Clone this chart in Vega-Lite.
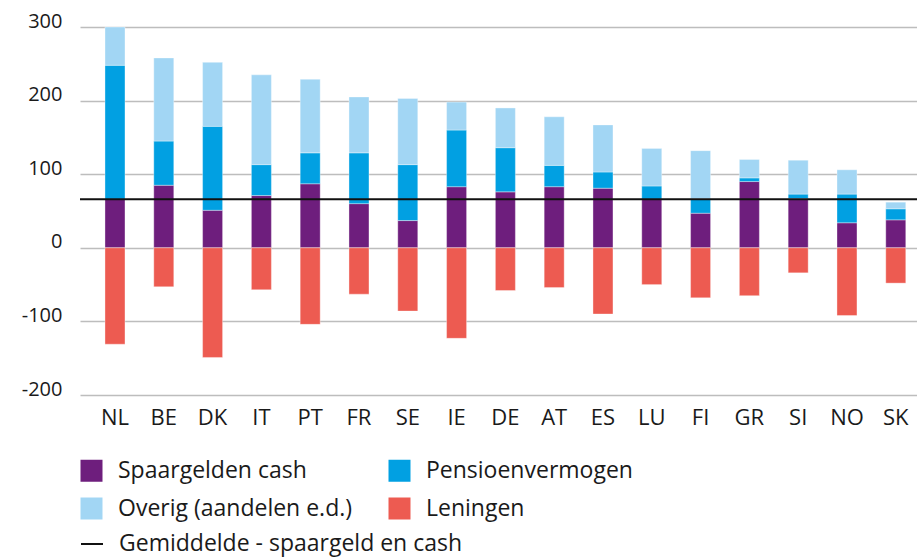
{
  "$schema": "https://vega.github.io/schema/vega-lite/v6.json",
  "width": 837,
  "height": 368,
  "autosize": "none",
  "padding": {"left": 80, "top": 27, "right": 0, "bottom": 164},
  "background": "white",
  "config": {
    "font": "Open Sans",
    "view": {"stroke": null},
    "axis": {"labelFont": "Open Sans", "labelColor": "#1a1a1a"},
    "legend": {"labelFont": "Open Sans", "labelColor": "#1a1a1a", "padding": 0}
  },
  "data": {
    "values": [
      {"land": "NL", "cat": "Spaargelden cash", "v": 66},
      {"land": "NL", "cat": "Pensioenvermogen", "v": 182},
      {"land": "NL", "cat": "Overig (aandelen e.d.)", "v": 52},
      {"land": "NL", "cat": "Leningen", "v": -131},
      {"land": "BE", "cat": "Spaargelden cash", "v": 85},
      {"land": "BE", "cat": "Pensioenvermogen", "v": 60},
      {"land": "BE", "cat": "Overig (aandelen e.d.)", "v": 113},
      {"land": "BE", "cat": "Leningen", "v": -53},
      {"land": "DK", "cat": "Spaargelden cash", "v": 51},
      {"land": "DK", "cat": "Pensioenvermogen", "v": 114},
      {"land": "DK", "cat": "Overig (aandelen e.d.)", "v": 87},
      {"land": "DK", "cat": "Leningen", "v": -149},
      {"land": "IT", "cat": "Spaargelden cash", "v": 71},
      {"land": "IT", "cat": "Pensioenvermogen", "v": 42},
      {"land": "IT", "cat": "Overig (aandelen e.d.)", "v": 122},
      {"land": "IT", "cat": "Leningen", "v": -57},
      {"land": "PT", "cat": "Spaargelden cash", "v": 87},
      {"land": "PT", "cat": "Pensioenvermogen", "v": 42},
      {"land": "PT", "cat": "Overig (aandelen e.d.)", "v": 100},
      {"land": "PT", "cat": "Leningen", "v": -104},
      {"land": "FR", "cat": "Spaargelden cash", "v": 60},
      {"land": "FR", "cat": "Pensioenvermogen", "v": 69},
      {"land": "FR", "cat": "Overig (aandelen e.d.)", "v": 76},
      {"land": "FR", "cat": "Leningen", "v": -63},
      {"land": "SE", "cat": "Spaargelden cash", "v": 37},
      {"land": "SE", "cat": "Pensioenvermogen", "v": 76},
      {"land": "SE", "cat": "Overig (aandelen e.d.)", "v": 90},
      {"land": "SE", "cat": "Leningen", "v": -86},
      {"land": "IE", "cat": "Spaargelden cash", "v": 83},
      {"land": "IE", "cat": "Pensioenvermogen", "v": 77},
      {"land": "IE", "cat": "Overig (aandelen e.d.)", "v": 38},
      {"land": "IE", "cat": "Leningen", "v": -123},
      {"land": "DE", "cat": "Spaargelden cash", "v": 76},
      {"land": "DE", "cat": "Pensioenvermogen", "v": 60},
      {"land": "DE", "cat": "Overig (aandelen e.d.)", "v": 54},
      {"land": "DE", "cat": "Leningen", "v": -58},
      {"land": "AT", "cat": "Spaargelden cash", "v": 83},
      {"land": "AT", "cat": "Pensioenvermogen", "v": 29},
      {"land": "AT", "cat": "Overig (aandelen e.d.)", "v": 66},
      {"land": "AT", "cat": "Leningen", "v": -54},
      {"land": "ES", "cat": "Spaargelden cash", "v": 81},
      {"land": "ES", "cat": "Pensioenvermogen", "v": 22},
      {"land": "ES", "cat": "Overig (aandelen e.d.)", "v": 64},
      {"land": "ES", "cat": "Leningen", "v": -90},
      {"land": "LU", "cat": "Spaargelden cash", "v": 66},
      {"land": "LU", "cat": "Pensioenvermogen", "v": 18},
      {"land": "LU", "cat": "Overig (aandelen e.d.)", "v": 51},
      {"land": "LU", "cat": "Leningen", "v": -50},
      {"land": "FI", "cat": "Spaargelden cash", "v": 47},
      {"land": "FI", "cat": "Pensioenvermogen", "v": 20},
      {"land": "FI", "cat": "Overig (aandelen e.d.)", "v": 65},
      {"land": "FI", "cat": "Leningen", "v": -68},
      {"land": "GR", "cat": "Spaargelden cash", "v": 90},
      {"land": "GR", "cat": "Pensioenvermogen", "v": 5},
      {"land": "GR", "cat": "Overig (aandelen e.d.)", "v": 25},
      {"land": "GR", "cat": "Leningen", "v": -65},
      {"land": "SI", "cat": "Spaargelden cash", "v": 67},
      {"land": "SI", "cat": "Pensioenvermogen", "v": 6},
      {"land": "SI", "cat": "Overig (aandelen e.d.)", "v": 46},
      {"land": "SI", "cat": "Leningen", "v": -34},
      {"land": "NO", "cat": "Spaargelden cash", "v": 34},
      {"land": "NO", "cat": "Pensioenvermogen", "v": 39},
      {"land": "NO", "cat": "Overig (aandelen e.d.)", "v": 33},
      {"land": "NO", "cat": "Leningen", "v": -92},
      {"land": "SK", "cat": "Spaargelden cash", "v": 38},
      {"land": "SK", "cat": "Pensioenvermogen", "v": 15},
      {"land": "SK", "cat": "Overig (aandelen e.d.)", "v": 9},
      {"land": "SK", "cat": "Leningen", "v": -48}
    ]
  },
  "layer": [
    {
      "mark": {"type": "bar", "stroke": "white", "strokeWidth": 0.6, "strokeOpacity": 0.6},
      "encoding": {
        "x": {
          "field": "land",
          "type": "nominal",
          "sort": null,
          "scale": {"paddingInner": 0.59, "paddingOuter": 0.371, "align": 0.69},
          "axis": {
            "title": null,
            "labelAngle": 0,
            "labelFontSize": 22,
            "labelPadding": 12,
            "ticks": false,
            "domain": false,
            "grid": false
          }
        },
        "y": {
          "field": "v",
          "type": "quantitative",
          "stack": "zero",
          "scale": {"domain": [-200, 300], "nice": false},
          "axis": {
            "title": null,
            "values": [-200, -100, 0, 100, 200, 300],
            "labelExpr": "toString(datum.value)",
            "labelFontSize": 20,
            "labelPadding": 18,
            "labelBaseline": "alphabetic",
            "ticks": false,
            "domain": false,
            "grid": true,
            "gridColor": "#bdbdbd",
            "gridWidth": 1.5,
            "gridOpacity": 1
          }
        },
        "color": {
          "field": "cat",
          "type": "nominal",
          "sort": ["Spaargelden cash", "Pensioenvermogen", "Overig (aandelen e.d.)", "Leningen"],
          "scale": {
            "domain": ["Spaargelden cash", "Pensioenvermogen", "Overig (aandelen e.d.)", "Leningen"],
            "range": ["#6e1e7d", "#01a0e2", "#a2d6f4", "#ed5b51"]
          },
          "legend": {
            "title": null,
            "orient": "none",
            "legendX": 0,
            "legendY": 432,
            "direction": "horizontal",
            "columns": 2,
            "columnPadding": 35,
            "rowPadding": 14,
            "symbolType": "square",
            "symbolSize": 484,
            "symbolStrokeWidth": 0,
            "symbolOpacity": 1,
            "labelFontSize": 23,
            "labelOffset": 15,
            "labelLimit": 400
          }
        }
      }
    },
    {
      "data": {"values": [{"label": "Gemiddelde - spaargeld en cash", "gemiddelde": 66}]},
      "mark": {"type": "rule", "strokeWidth": 2},
      "encoding": {
        "y": {"field": "gemiddelde", "type": "quantitative"},
        "stroke": {
          "field": "label",
          "type": "nominal",
          "scale": {"range": ["#111111"]},
          "legend": {
            "title": null,
            "orient": "none",
            "legendX": 0,
            "legendY": 505,
            "symbolType": "stroke",
            "symbolSize": 484,
            "symbolStrokeWidth": 2,
            "labelFontSize": 23,
            "labelOffset": 15,
            "labelLimit": 500
          }
        }
      }
    }
  ]
}
